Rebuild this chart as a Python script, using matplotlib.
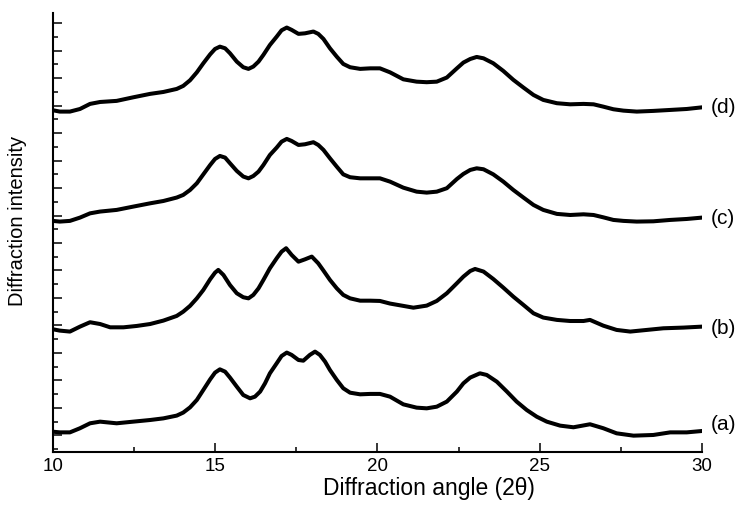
import matplotlib
matplotlib.use("Agg")
import matplotlib.pyplot as plt
from matplotlib.ticker import MultipleLocator, FixedLocator

plt.rcParams['font.family'] = ['Liberation Sans', 'DejaVu Sans']

# Curve (a)
xa = [10.0, 10.22, 10.53, 10.84, 11.15, 11.46, 11.97, 12.48, 13.00, 13.41, 13.82, 14.02, 14.23, 14.44,
      14.64, 14.85, 15.00, 15.15, 15.31, 15.46, 15.67, 15.87, 16.08, 16.23, 16.39, 16.54, 16.69, 16.90,
      17.05, 17.21, 17.36, 17.57, 17.72, 17.92, 18.08, 18.23, 18.39, 18.54, 18.75, 18.95, 19.16, 19.47,
      19.78, 20.08, 20.39, 20.80, 21.21, 21.52, 21.83, 22.14, 22.45, 22.65, 22.86, 23.16, 23.37, 23.68,
      23.99, 24.29, 24.60, 24.91, 25.22, 25.63, 26.04, 26.55, 26.96, 27.37, 27.89, 28.50, 29.02, 29.53, 30.0]
ya = [1.26, 1.21, 1.21, 1.51, 1.87, 1.99, 1.87, 1.99, 2.11, 2.23, 2.43, 2.65, 3.03, 3.57,
      4.30, 5.07, 5.56, 5.80, 5.63, 5.20, 4.54, 3.93, 3.69, 3.81, 4.18, 4.78, 5.51, 6.24,
      6.77, 7.02, 6.85, 6.48, 6.43, 6.85, 7.09, 6.85, 6.36, 5.75, 5.03, 4.42, 4.10, 3.98,
      4.01, 4.01, 3.81, 3.25, 3.01, 2.96, 3.08, 3.45, 4.18, 4.78, 5.20, 5.51, 5.39, 4.90,
      4.18, 3.45, 2.84, 2.35, 1.99, 1.70, 1.58, 1.80, 1.51, 1.14, 0.97, 1.02, 1.21, 1.21, 1.31]

# Curve (b)
xb = [10.0, 10.22, 10.53, 10.84, 11.15, 11.46, 11.77, 12.18, 12.59, 13.00, 13.41, 13.82, 14.02, 14.23,
      14.44, 14.64, 14.85, 15.00, 15.10, 15.26, 15.46, 15.67, 15.87, 16.03, 16.18, 16.34, 16.49, 16.69,
      16.90, 17.05, 17.19, 17.36, 17.57, 17.77, 17.98, 18.18, 18.34, 18.54, 18.75, 18.95, 19.16, 19.47,
      19.78, 20.08, 20.39, 20.80, 21.11, 21.52, 21.83, 22.14, 22.45, 22.65, 22.86, 23.01, 23.27, 23.57,
      23.88, 24.19, 24.50, 24.81, 25.11, 25.53, 25.94, 26.35, 26.55, 26.96, 27.37, 27.79, 28.30, 28.81,
      29.43, 30.0]
yb = [8.72, 8.62, 8.55, 8.91, 9.23, 9.10, 8.86, 8.86, 8.96, 9.10, 9.35, 9.69, 10.00, 10.42,
      10.97, 11.58, 12.36, 12.84, 13.04, 12.67, 11.94, 11.34, 11.05, 10.97, 11.22, 11.70, 12.31, 13.16,
      13.89, 14.37, 14.62, 14.13, 13.64, 13.81, 14.01, 13.52, 12.99, 12.31, 11.70, 11.22, 10.97, 10.80,
      10.80, 10.78, 10.59, 10.42, 10.29, 10.44, 10.78, 11.34, 12.07, 12.55, 12.96, 13.11, 12.92, 12.38,
      11.75, 11.09, 10.49, 9.88, 9.57, 9.40, 9.32, 9.32, 9.40, 8.98, 8.67, 8.55, 8.67, 8.79,
      8.84, 8.91]

# Curve (c)
xc = [10.0, 10.22, 10.53, 10.84, 11.15, 11.46, 11.97, 12.48, 13.00, 13.41, 13.82, 14.02, 14.23, 14.44,
      14.64, 14.85, 15.00, 15.15, 15.31, 15.46, 15.67, 15.87, 16.03, 16.18, 16.34, 16.49, 16.69, 16.90,
      17.05, 17.21, 17.36, 17.57, 17.77, 18.03, 18.18, 18.34, 18.54, 18.75, 18.95, 19.16, 19.47, 19.78,
      20.08, 20.39, 20.80, 21.21, 21.52, 21.83, 22.14, 22.45, 22.65, 22.86, 23.06, 23.27, 23.57, 23.88,
      24.19, 24.50, 24.81, 25.11, 25.53, 25.94, 26.35, 26.66, 26.96, 27.27, 27.58, 27.99, 28.50, 29.02,
      29.53, 30.0]
yc = [16.61, 16.56, 16.61, 16.85, 17.16, 17.29, 17.41, 17.65, 17.89, 18.06, 18.31, 18.50, 18.86, 19.35,
      20.00, 20.68, 21.12, 21.34, 21.22, 20.81, 20.25, 19.84, 19.71, 19.88, 20.20, 20.68, 21.41, 21.95,
      22.38, 22.58, 22.43, 22.14, 22.19, 22.34, 22.14, 21.78, 21.17, 20.56, 20.00, 19.79, 19.71, 19.71,
      19.71, 19.47, 19.03, 18.74, 18.67, 18.74, 18.99, 19.66, 20.03, 20.32, 20.44, 20.37, 20.00, 19.47,
      18.86, 18.31, 17.77, 17.41, 17.12, 17.04, 17.09, 17.04, 16.87, 16.68, 16.61, 16.56, 16.58, 16.68,
      16.75, 16.85]

# Curve (d)
xd = [10.0, 10.22, 10.53, 10.84, 11.15, 11.46, 11.97, 12.48, 13.00, 13.41, 13.82, 14.02, 14.23, 14.44,
      14.64, 14.85, 15.00, 15.15, 15.31, 15.46, 15.67, 15.87, 16.03, 16.18, 16.34, 16.49, 16.69, 16.90,
      17.05, 17.21, 17.36, 17.57, 17.77, 18.03, 18.18, 18.34, 18.54, 18.75, 18.95, 19.16, 19.47, 19.78,
      20.08, 20.39, 20.80, 21.21, 21.52, 21.83, 22.14, 22.45, 22.65, 22.86, 23.06, 23.27, 23.57, 23.88,
      24.19, 24.50, 24.81, 25.11, 25.53, 25.94, 26.35, 26.66, 26.96, 27.27, 27.58, 27.99, 28.50, 29.02,
      29.53, 30.0]
yd = [24.67, 24.57, 24.57, 24.76, 25.13, 25.27, 25.35, 25.61, 25.86, 26.00, 26.22, 26.44, 26.85, 27.43,
      28.09, 28.74, 29.13, 29.30, 29.18, 28.82, 28.21, 27.80, 27.68, 27.85, 28.21, 28.70, 29.42, 30.03,
      30.49, 30.69, 30.52, 30.23, 30.27, 30.40, 30.23, 29.86, 29.18, 28.57, 28.04, 27.80, 27.68, 27.72,
      27.72, 27.43, 26.92, 26.75, 26.71, 26.75, 27.05, 27.72, 28.14, 28.40, 28.55, 28.45, 28.09, 27.53,
      26.88, 26.32, 25.78, 25.42, 25.18, 25.10, 25.13, 25.10, 24.93, 24.74, 24.64, 24.57, 24.62, 24.69,
      24.76, 24.88]

labels = ['(a)', '(b)', '(c)', '(d)']
label_y = [1.75, 8.75, 16.8, 24.9]
xticks = [10, 15, 20, 25, 30]

fig = plt.figure(figsize=(7.43, 5.07), dpi=100)
ax = fig.add_axes([52.7 / 743, 1 - 452 / 507, (702 - 52.7) / 743, (452 - 13) / 507])

for xs, ys in [(xa, ya), (xb, yb), (xc, yc), (xd, yd)]:
    ax.plot(xs, ys, color='black', lw=2.9, solid_joinstyle='round', solid_capstyle='round')

for lab, ly in zip(labels, label_y):
    ax.text(30.28, ly, lab, fontsize=15, ha='left', va='center', clip_on=False)

ax.set_xlim(10, 30)
ax.set_ylim(-0.22, 31.75)
ax.xaxis.set_major_locator(FixedLocator(xticks))
ax.xaxis.set_minor_locator(MultipleLocator(2.5))
ax.yaxis.set_major_locator(MultipleLocator(2, offset=1))
ax.yaxis.set_minor_locator(MultipleLocator(1))
ax.tick_params(axis='both', which='major', direction='in', length=6.5, width=1.1, labelsize=13.5, pad=4.5)
ax.tick_params(axis='both', which='minor', direction='in', length=3.5, width=1.1)
ax.tick_params(axis='y', which='both', labelleft=False)
for s in ['top', 'right']:
    ax.spines[s].set_visible(False)
for s in ['left', 'bottom']:
    ax.spines[s].set_linewidth(1.5)

ax.set_xlabel('Diffraction angle (2θ)', fontsize=16.5)
ax.xaxis.set_label_coords(0.5796, -0.057)
ax.set_ylabel('Diffraction intensity', fontsize=14.5)
ax.yaxis.set_label_coords(-0.040, 0.526)

fig.savefig('out.png', dpi=100)
